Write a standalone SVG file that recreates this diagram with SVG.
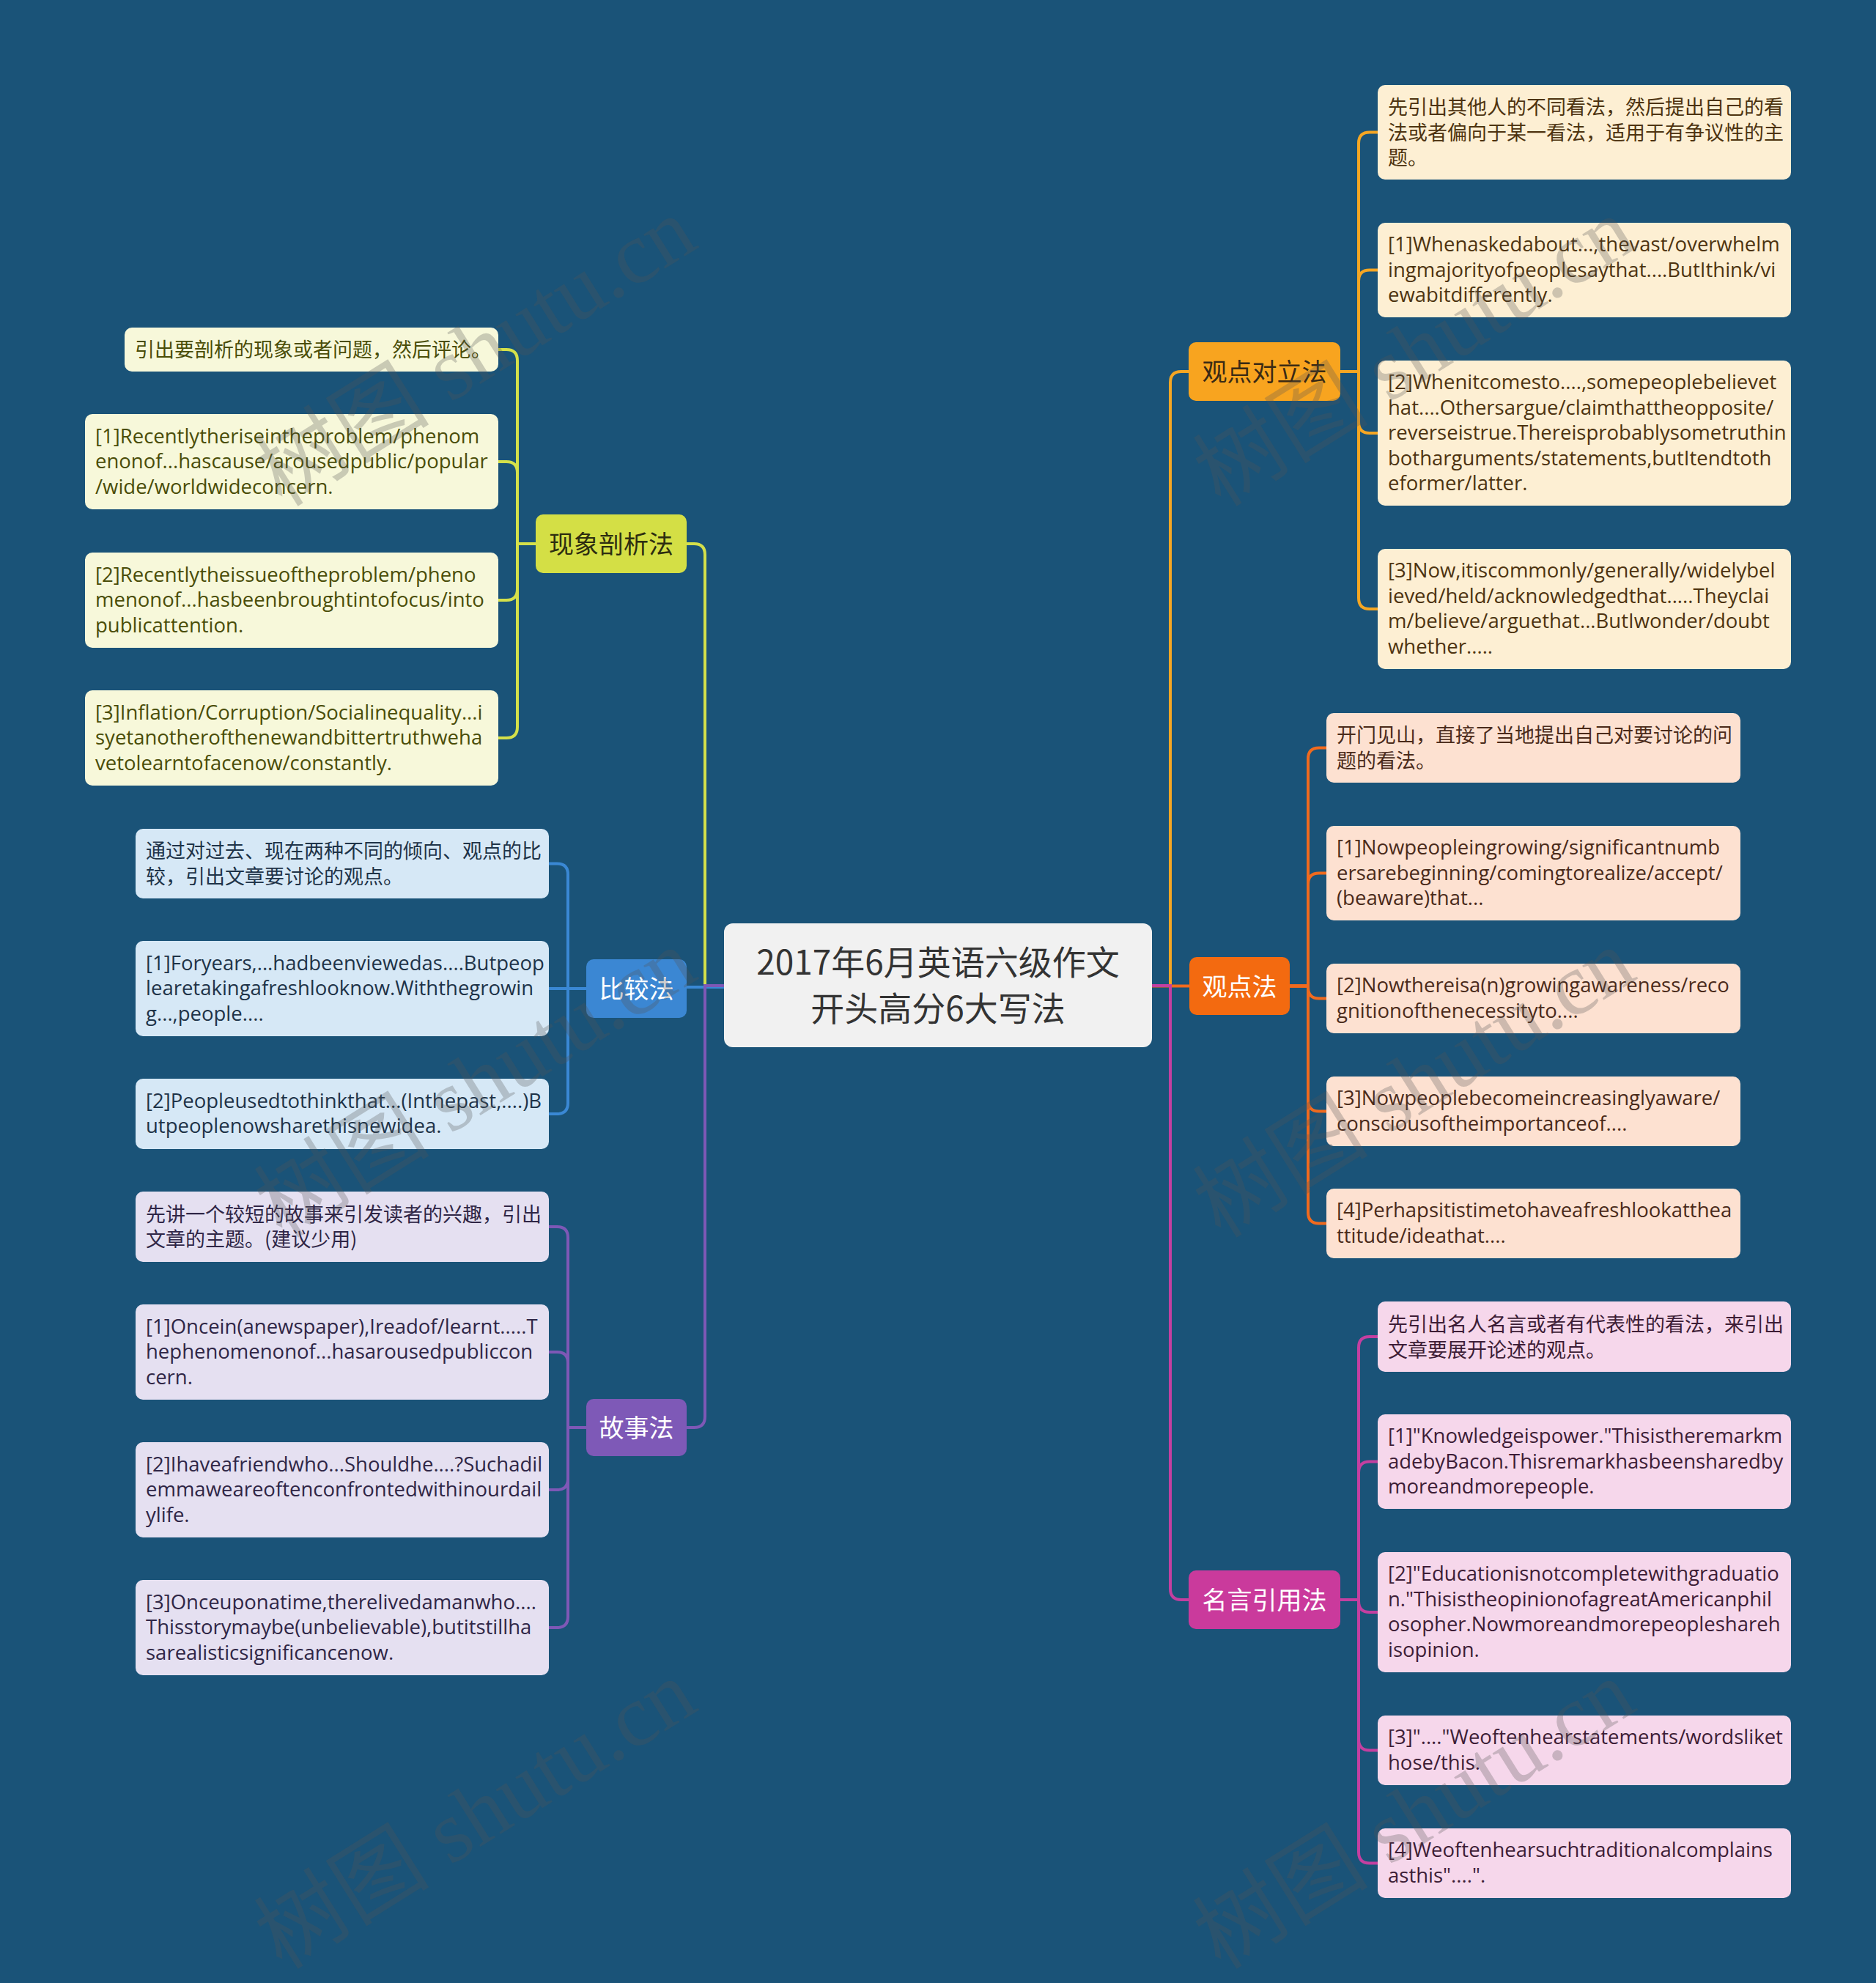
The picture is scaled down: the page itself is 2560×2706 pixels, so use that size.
<svg xmlns="http://www.w3.org/2000/svg" width="2560" height="2706" viewBox="0 0 2560 2706">
<style>
.cn{fill:none;stroke-width:4}
.c1{stroke:#F5A623}.c2{stroke:#F06A1E}.c3{stroke:#C43FA0}.c4{stroke:#D4E04A}.c5{stroke:#3A88D4}.c6{stroke:#7E58B6}
.zh{font-family:"Noto Sans CJK SC",sans-serif;font-size:27px}
.en{font-family:"Open Sans","Noto Sans CJK SC",sans-serif;font-size:27.5px}
.nt{font-family:"Noto Sans CJK SC",sans-serif;font-size:34px;text-anchor:middle}
.title{font-family:"Noto Sans CJK SC",sans-serif;font-size:46px;text-anchor:middle;fill:#333333}
.l1{fill:#FDEFD3}.l2{fill:#FDE1D1}.l3{fill:#F6D7EB}.l4{fill:#F7F8DA}.l5{fill:#D6E8F6}.l6{fill:#E5E0F1}
.x1{fill:#4D3310}.x2{fill:#4A2A1A}.x3{fill:#3D1D36}.x4{fill:#4A4D08}.x5{fill:#1E3348}.x6{fill:#2F2646}
.wm{font-family:"Liberation Serif","Noto Sans CJK SC",serif;font-size:120px;fill:#555555;opacity:0.28}
</style>
<rect width="2560" height="2706" fill="#1A5378"/>
<g id="connectors">
<path class="cn c1" d="M1572 1345 H1597 V522 Q1597 507 1612 507 H1622"/>
<path class="cn c2" d="M1572 1345.5 H1623"/>
<path class="cn c3" d="M1572 1345 H1597 V2168 Q1597 2183 1612 2183 H1622"/>
<path class="cn c4" d="M988 1345 H962 V757 Q962 742 947 742 H937"/>
<path class="cn c5" d="M988 1347 H937"/>
<path class="cn c6" d="M988 1345 H962 V1933 Q962 1948 947 1948 H937"/>
<path class="cn c1" d="M1829 507 H1854 V195.5 Q1854 180.5 1869 180.5 H1880"/>
<path class="cn c1" d="M1829 507 H1854 V383.5 Q1854 368.5 1869 368.5 H1880"/>
<path class="cn c1" d="M1829 507 H1854 V576 Q1854 591 1869 591 H1880"/>
<path class="cn c1" d="M1829 507 H1854 V816 Q1854 831 1869 831 H1880"/>
<path class="cn c2" d="M1760 1345.5 H1785 V1035.5 Q1785 1020.5 1800 1020.5 H1810"/>
<path class="cn c2" d="M1760 1345.5 H1785 V1206.5 Q1785 1191.5 1800 1191.5 H1810"/>
<path class="cn c2" d="M1760 1345.5 H1785 V1347.5 Q1785 1362.5 1800 1362.5 H1810"/>
<path class="cn c2" d="M1760 1345.5 H1785 V1501.5 Q1785 1516.5 1800 1516.5 H1810"/>
<path class="cn c2" d="M1760 1345.5 H1785 V1654.5 Q1785 1669.5 1800 1669.5 H1810"/>
<path class="cn c3" d="M1829 2183 H1854 V1839 Q1854 1824 1869 1824 H1880"/>
<path class="cn c3" d="M1829 2183 H1854 V2009.5 Q1854 1994.5 1869 1994.5 H1880"/>
<path class="cn c3" d="M1829 2183 H1854 V2185 Q1854 2200 1869 2200 H1880"/>
<path class="cn c3" d="M1829 2183 H1854 V2373.5 Q1854 2388.5 1869 2388.5 H1880"/>
<path class="cn c3" d="M1829 2183 H1854 V2527.5 Q1854 2542.5 1869 2542.5 H1880"/>
<path class="cn c4" d="M731 742 H706 V492 Q706 477 691 477 H680"/>
<path class="cn c4" d="M731 742 H706 V645 Q706 630 691 630 H680"/>
<path class="cn c4" d="M731 742 H706 V804 Q706 819 691 819 H680"/>
<path class="cn c4" d="M731 742 H706 V992 Q706 1007 691 1007 H680"/>
<path class="cn c5" d="M800 1349 H775 V1193.5 Q775 1178.5 760 1178.5 H749"/>
<path class="cn c5" d="M800 1349 H749"/>
<path class="cn c5" d="M800 1349 H775 V1505 Q775 1520 760 1520 H749"/>
<path class="cn c6" d="M800 1948 H775 V1689 Q775 1674 760 1674 H749"/>
<path class="cn c6" d="M800 1948 H775 V1860 Q775 1845 760 1845 H749"/>
<path class="cn c6" d="M800 1948 H775 V2018 Q775 2033 760 2033 H749"/>
<path class="cn c6" d="M800 1948 H775 V2206 Q775 2221 760 2221 H749"/>
</g>
<g id="root">
<rect x="988" y="1260" width="584" height="169" rx="12" fill="#F1F1F1"/>
<text class="title" x="1280" y="1330">2017年6月英语六级作文</text>
<text class="title" x="1280" y="1393">开头高分6大写法</text>
</g>
<g id="b-gdlf">
<rect x="1622" y="467" width="207" height="80" rx="10" fill="#F8A41F"/>
<text class="nt" x="1725.5" y="520" fill="#3A2A14">观点对立法</text>
</g>
<g id="b-gdf">
<rect x="1623" y="1306" width="137" height="79" rx="10" fill="#F36A10"/>
<text class="nt" x="1691.5" y="1358.5" fill="#FFFFFF">观点法</text>
</g>
<g id="b-myyyf">
<rect x="1622" y="2143" width="207" height="80" rx="10" fill="#CA3A9C"/>
<text class="nt" x="1725.5" y="2196" fill="#FFFFFF">名言引用法</text>
</g>
<g id="b-xxpxf">
<rect x="731" y="702" width="206" height="80" rx="10" fill="#D4DF45"/>
<text class="nt" x="834" y="755" fill="#2D2D10">现象剖析法</text>
</g>
<g id="b-bjf">
<rect x="800" y="1309" width="137" height="80" rx="10" fill="#3B87D3"/>
<text class="nt" x="868.5" y="1362" fill="#FFFFFF">比较法</text>
</g>
<g id="b-gsf">
<rect x="800" y="1909" width="137" height="78" rx="10" fill="#7E59B7"/>
<text class="nt" x="868.5" y="1961" fill="#FFFFFF">故事法</text>
</g>
<g id="gdlf-1"><rect class="l1" x="1880" y="116" width="564" height="129" rx="10"/>
<text class="zh x1" y="156"><tspan x="1894">先引出其他人的不同看法，然后提出自己的看</tspan><tspan x="1894" dy="34.5">法或者偏向于某一看法，适用于有争议性的主</tspan><tspan x="1894" dy="34.5">题。</tspan></text></g>
<g id="gdlf-2"><rect class="l1" x="1880" y="304" width="564" height="129" rx="10"/>
<text class="en x1" y="343"><tspan x="1894">[1]Whenaskedabout...,thevast/overwhelm</tspan><tspan x="1894" dy="34.5">ingmajorityofpeoplesaythat....ButIthink/vi</tspan><tspan x="1894" dy="34.5">ewabitdifferently.</tspan></text></g>
<g id="gdlf-3"><rect class="l1" x="1880" y="492" width="564" height="198" rx="10"/>
<text class="en x1" y="531"><tspan x="1894">[2]Whenitcomesto....,somepeoplebelievet</tspan><tspan x="1894" dy="34.5">hat....Othersargue/claimthattheopposite/</tspan><tspan x="1894" dy="34.5">reverseistrue.Thereisprobablysometruthin</tspan><tspan x="1894" dy="34.5">botharguments/statements,butItendtoth</tspan><tspan x="1894" dy="34.5">eformer/latter.</tspan></text></g>
<g id="gdlf-4"><rect class="l1" x="1880" y="749" width="564" height="164" rx="10"/>
<text class="en x1" y="788"><tspan x="1894">[3]Now,itiscommonly/generally/widelybel</tspan><tspan x="1894" dy="34.5">ieved/held/acknowledgedthat.....Theyclai</tspan><tspan x="1894" dy="34.5">m/believe/arguethat...ButIwonder/doubt</tspan><tspan x="1894" dy="34.5">whether.....</tspan></text></g>
<g id="gdf-1"><rect class="l2" x="1810" y="973" width="565" height="95" rx="10"/>
<text class="zh x2" y="1013"><tspan x="1824">开门见山，直接了当地提出自己对要讨论的问</tspan><tspan x="1824" dy="34.5">题的看法。</tspan></text></g>
<g id="gdf-2"><rect class="l2" x="1810" y="1127" width="565" height="129" rx="10"/>
<text class="en x2" y="1166"><tspan x="1824">[1]Nowpeopleingrowing/significantnumb</tspan><tspan x="1824" dy="34.5">ersarebeginning/comingtorealize/accept/</tspan><tspan x="1824" dy="34.5">(beaware)that...</tspan></text></g>
<g id="gdf-3"><rect class="l2" x="1810" y="1315" width="565" height="95" rx="10"/>
<text class="en x2" y="1354"><tspan x="1824">[2]Nowthereisa(n)growingawareness/reco</tspan><tspan x="1824" dy="34.5">gnitionofthenecessityto....</tspan></text></g>
<g id="gdf-4"><rect class="l2" x="1810" y="1469" width="565" height="95" rx="10"/>
<text class="en x2" y="1508"><tspan x="1824">[3]Nowpeoplebecomeincreasinglyaware/</tspan><tspan x="1824" dy="34.5">consciousoftheimportanceof....</tspan></text></g>
<g id="gdf-5"><rect class="l2" x="1810" y="1622" width="565" height="95" rx="10"/>
<text class="en x2" y="1661"><tspan x="1824">[4]Perhapsitistimetohaveafreshlookatthea</tspan><tspan x="1824" dy="34.5">ttitude/ideathat....</tspan></text></g>
<g id="myyyf-1"><rect class="l3" x="1880" y="1776" width="564" height="96" rx="10"/>
<text class="zh x3" y="1817"><tspan x="1894">先引出名人名言或者有代表性的看法，来引出</tspan><tspan x="1894" dy="34.5">文章要展开论述的观点。</tspan></text></g>
<g id="myyyf-2"><rect class="l3" x="1880" y="1930" width="564" height="129" rx="10"/>
<text class="en x3" y="1969"><tspan x="1894">[1]"Knowledgeispower."Thisistheremarkm</tspan><tspan x="1894" dy="34.5">adebyBacon.Thisremarkhasbeensharedby</tspan><tspan x="1894" dy="34.5">moreandmorepeople.</tspan></text></g>
<g id="myyyf-3"><rect class="l3" x="1880" y="2118" width="564" height="164" rx="10"/>
<text class="en x3" y="2157"><tspan x="1894">[2]"Educationisnotcompletewithgraduatio</tspan><tspan x="1894" dy="34.5">n."ThisistheopinionofagreatAmericanphil</tspan><tspan x="1894" dy="34.5">osopher.Nowmoreandmorepeopleshareh</tspan><tspan x="1894" dy="34.5">isopinion.</tspan></text></g>
<g id="myyyf-4"><rect class="l3" x="1880" y="2341" width="564" height="95" rx="10"/>
<text class="en x3" y="2380"><tspan x="1894">[3]"...."Weoftenhearstatements/wordsliket</tspan><tspan x="1894" dy="34.5">hose/this.</tspan></text></g>
<g id="myyyf-5"><rect class="l3" x="1880" y="2495" width="564" height="95" rx="10"/>
<text class="en x3" y="2534"><tspan x="1894">[4]Weoftenhearsuchtraditionalcomplains</tspan><tspan x="1894" dy="34.5">asthis"....".</tspan></text></g>
<g id="xxpxf-1"><rect class="l4" x="170" y="447" width="510" height="60" rx="10"/>
<text class="zh x4" x="184" y="487">引出要剖析的现象或者问题，然后评论。</text></g>
<g id="xxpxf-2"><rect class="l4" x="116" y="565" width="564" height="130" rx="10"/>
<text class="en x4" y="604.5"><tspan x="130">[1]Recentlytheriseintheproblem/phenom</tspan><tspan x="130" dy="34.5">enonof...hascause/arousedpublic/popular</tspan><tspan x="130" dy="34.5">/wide/worldwideconcern.</tspan></text></g>
<g id="xxpxf-3"><rect class="l4" x="116" y="754" width="564" height="130" rx="10"/>
<text class="en x4" y="793.5"><tspan x="130">[2]Recentlytheissueoftheproblem/pheno</tspan><tspan x="130" dy="34.5">menonof...hasbeenbroughtintofocus/into</tspan><tspan x="130" dy="34.5">publicattention.</tspan></text></g>
<g id="xxpxf-4"><rect class="l4" x="116" y="942" width="564" height="130" rx="10"/>
<text class="en x4" y="981.5"><tspan x="130">[3]Inflation/Corruption/Socialinequality...i</tspan><tspan x="130" dy="34.5">syetanotherofthenewandbittertruthweha</tspan><tspan x="130" dy="34.5">vetolearntofacenow/constantly.</tspan></text></g>
<g id="bjf-1"><rect class="l5" x="185" y="1131" width="564" height="95" rx="10"/>
<text class="zh x5" y="1171"><tspan x="199">通过对过去、现在两种不同的倾向、观点的比</tspan><tspan x="199" dy="34.5">较，引出文章要讨论的观点。</tspan></text></g>
<g id="bjf-2"><rect class="l5" x="185" y="1284" width="564" height="130" rx="10"/>
<text class="en x5" y="1323.5"><tspan x="199">[1]Foryears,...hadbeenviewedas....Butpeop</tspan><tspan x="199" dy="34.5">learetakingafreshlooknow.Withthegrowin</tspan><tspan x="199" dy="34.5">g...,people....</tspan></text></g>
<g id="bjf-3"><rect class="l5" x="185" y="1472" width="564" height="96" rx="10"/>
<text class="en x5" y="1511.5"><tspan x="199">[2]Peopleusedtothinkthat...(Inthepast,....)B</tspan><tspan x="199" dy="34.5">utpeoplenowsharethisnewidea.</tspan></text></g>
<g id="gsf-1"><rect class="l6" x="185" y="1626" width="564" height="96" rx="10"/>
<text class="zh x6" y="1666.5"><tspan x="199">先讲一个较短的故事来引发读者的兴趣，引出</tspan><tspan x="199" dy="34.5">文章的主题。(建议少用)</tspan></text></g>
<g id="gsf-2"><rect class="l6" x="185" y="1780" width="564" height="130" rx="10"/>
<text class="en x6" y="1819.5"><tspan x="199">[1]Oncein(anewspaper),Ireadof/learnt.....T</tspan><tspan x="199" dy="34.5">hephenomenonof...hasarousedpubliccon</tspan><tspan x="199" dy="34.5">cern.</tspan></text></g>
<g id="gsf-3"><rect class="l6" x="185" y="1968" width="564" height="130" rx="10"/>
<text class="en x6" y="2007.5"><tspan x="199">[2]Ihaveafriendwho...Shouldhe....?Suchadil</tspan><tspan x="199" dy="34.5">emmaweareoftenconfrontedwithinourdail</tspan><tspan x="199" dy="34.5">ylife.</tspan></text></g>
<g id="gsf-4"><rect class="l6" x="185" y="2156" width="564" height="130" rx="10"/>
<text class="en x6" y="2195.5"><tspan x="199">[3]Onceuponatime,therelivedamanwho....</tspan><tspan x="199" dy="34.5">Thisstorymaybe(unbelievable),butitstillha</tspan><tspan x="199" dy="34.5">sarealisticsignificancenow.</tspan></text></g>
<g id="watermark">
<text class="wm" transform="translate(385 693) rotate(-32)">树图 shutu.cn</text>
<text class="wm" transform="translate(1666 693) rotate(-32)">树图 shutu.cn</text>
<text class="wm" transform="translate(385 1691) rotate(-32)">树图 shutu.cn</text>
<text class="wm" transform="translate(1666 1691) rotate(-32)">树图 shutu.cn</text>
<text class="wm" transform="translate(385 2689) rotate(-32)">树图 shutu.cn</text>
<text class="wm" transform="translate(1666 2689) rotate(-32)">树图 shutu.cn</text>
</g>
</svg>
